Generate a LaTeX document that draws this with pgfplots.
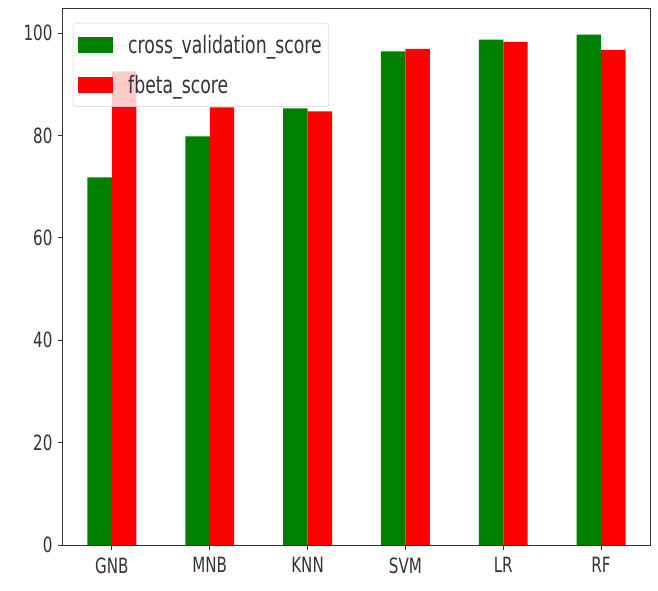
\documentclass[border=0pt]{standalone}
\usepackage{fontspec}
\setmainfont{DejaVu Sans}[FakeStretch=0.72]
\usepackage{pgfplots}
\pgfplotsset{compat=1.18}
\definecolor{mplgreen}{RGB}{0,128,0}
\definecolor{mplred}{RGB}{255,0,0}
\begin{document}
\begin{tikzpicture}
\path[use as bounding box] (-63pt,-45pt) rectangle (595pt,545pt);
\begin{axis}[
  at={(0,0)}, anchor=south west,
  width=587pt, height=536pt, scale only axis,
  ybar=0pt, bar width=0.25,
  xmin=-0.5, xmax=5.5, ymin=0, ymax=104.7,
  xtick={0,1,2,3,4,5},
  xticklabels={GNB,MNB,KNN,SVM,LR,RF},
  ytick={0,20,40,60,80,100},
  tick align=outside, tick pos=left,
  major tick length=5pt,
  axis line style={draw=black!80, line width=1pt},
  every tick/.style={black!80, line width=1pt},
  /pgf/number format/assume math mode=true,
  tick label style={font=\fontsize{21}{25}\selectfont, text=black!80},
  yticklabel style={xshift=-2pt},
  xticklabel style={yshift=-4pt},
  legend style={at={(0,1)}, anchor=north west, xshift=10pt, yshift=-14pt,
    draw=black!20, fill=white, fill opacity=0.8, text opacity=1, rounded corners=3pt,
    font=\fontsize{24}{29}\selectfont, text=black!80,
    row sep=16pt, inner xsep=5pt, inner ysep=10pt},
  legend cell align=left,
  legend image code/.code={
    \path (0pt,0pt) -- (48pt,0pt);
    \fill[#1, fill opacity=1, sharp corners] (0pt,-8pt) rectangle (35pt,8pt);},
]
\addplot[fill=mplgreen, draw=none] coordinates {(0,71.8) (1,79.8) (2,85.3) (3,96.4) (4,98.7) (5,99.7)};
\addplot[fill=mplred, draw=none] coordinates {(0,92.5) (1,85.5) (2,84.7) (3,96.9) (4,98.3) (5,96.7)};
\legend{cross\_validation\_score, fbeta\_score}
\end{axis}
\end{tikzpicture}
\end{document}
